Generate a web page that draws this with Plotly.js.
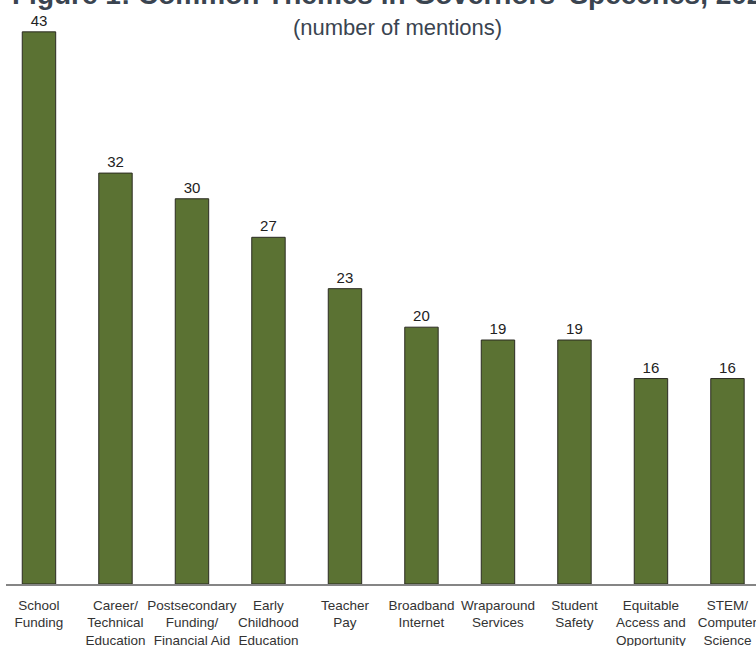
<!DOCTYPE html>
<html>
<head>
<meta charset="utf-8">
<script src="https://cdn.plot.ly/plotly-3.0.1.min.js"></script>
<style>html,body{margin:0;padding:0;background:#fff;}#chart{width:756px;height:646px;}</style>
</head>
<body>
<div id="chart"></div>
<script>
const categories = [
  "School<br>Funding",
  "Career/<br>Technical<br>Education",
  "Postsecondary<br>Funding/<br>Financial Aid",
  "Early<br>Childhood<br>Education",
  "Teacher<br>Pay",
  "Broadband<br>Internet",
  "Wraparound<br>Services",
  "Student<br>Safety",
  "Equitable<br>Access and<br>Opportunity",
  "STEM/<br>Computer<br>Science"
];
const mentions = [43, 32, 30, 27, 23, 20, 19, 19, 16, 16];
const titleText = "Figure 1: Common Themes in Governors' Speeches, 2022";
const subtitleText = "(number of mentions)";

const trace = {
  type: "bar",
  x: categories,
  y: mentions,
  width: 0.437,
  marker: { color: "#5b7233", line: { color: "#2b2b22", width: 1 } },
  text: mentions.map(String),
  textposition: "outside",
  textfont: { family: "Liberation Sans, Arial, sans-serif", size: 15, color: "#222" },
  cliponaxis: false,
  hoverinfo: "skip"
};

const layout = {
  width: 756,
  height: 646,
  margin: { l: 6, r: 0, t: 0, b: 62 },
  paper_bgcolor: "#fff",
  plot_bgcolor: "#fff",
  showlegend: false,
  bargap: 0.563,
  font: { family: "Liberation Sans, Arial, sans-serif", color: "#333" },
  xaxis: {
    type: "category",
    range: [-0.431, 9.373],
    showline: true,
    linecolor: "#858585",
    linewidth: 1.5,
    ticks: "",
    showgrid: false,
    zeroline: false,
    tickfont: { size: 13.5, color: "#333" },
    tickangle: 0,
    ticklabelstandoff: 8,
    fixedrange: true
  },
  yaxis: {
    range: [0, 45.48],
    visible: false,
    showgrid: false,
    zeroline: false,
    fixedrange: true
  },
  annotations: [
    {
      text: titleText,
      xref: "paper", yref: "paper",
      x: 0.005, y: 1 - 12/584, xanchor: "left", yanchor: "bottom",
      showarrow: false,
      font: { family: "Liberation Sans, Arial, sans-serif", size: 28, color: "#3a4450", weight: "bold" }
    },
    {
      text: subtitleText,
      xref: "paper", yref: "paper",
      x: (397 - 6) / 750, y: 1 - 27/584, xanchor: "center", yanchor: "middle",
      showarrow: false,
      font: { family: "Liberation Sans, Arial, sans-serif", size: 22, color: "#3a4450" }
    }
  ]
};

Plotly.newPlot("chart", [trace], layout, { staticPlot: true, displayModeBar: false });
</script>
</body>
</html>
